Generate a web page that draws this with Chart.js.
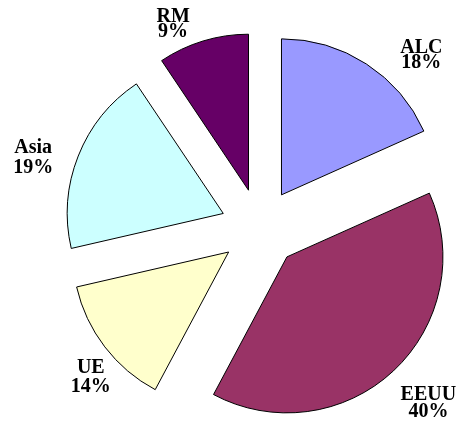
<!DOCTYPE html>
<html>
<head>
<meta charset="utf-8">
<script src="https://cdn.jsdelivr.net/npm/chart.js@4/dist/chart.umd.min.js"></script>
<style>
    html, body { margin: 0; padding: 0; background: #fff; }
    #wrap { width: 460px; height: 423px; position: relative; }
</style>
</head>
<body>
<div id="wrap"><canvas id="pieChart"></canvas></div>
<script>
// data (slice angles; labels show the rounded percent)
const regions = ['ALC', 'EEUU', 'UE', 'Asia', 'RM'];
const shares = [18.3, 39.5, 13.6, 19.2, 9.4];

const sliceColors = ['#9999FF', '#993366', '#FFFFCC', '#CCFFFF', '#660066'];
const explodeDist = 39.5;
// label nudge from the outer edge of each slice, and gap between the two lines
const labelNudge = [[55, -11], [35, 29], [-14, 26], [-45, -3], [-30, -19]];
const labelGap = [15, 17, 19, 20, 15];

const explodePlugin = {
    id: 'explode',
    beforeDatasetsDraw(chart) {
        const area = chart.chartArea;
        const cx = (area.left + area.right) / 2;
        const cy = (area.top + area.bottom) / 2;
        chart.getDatasetMeta(0).data.forEach(arc => {
            const mid = (arc.startAngle + arc.endAngle) / 2;
            arc.x = cx + Math.cos(mid) * explodeDist;
            arc.y = cy + Math.sin(mid) * explodeDist;
        });
    },
    afterDatasetsDraw(chart) {
        const ctx = chart.ctx;
        const total = shares.reduce((a, b) => a + b, 0);
        ctx.save();
        ctx.fillStyle = '#000';
        ctx.font = 'bold 20px "Liberation Serif", "Times New Roman", serif';
        ctx.textAlign = 'center';
        ctx.textBaseline = 'alphabetic';
        chart.getDatasetMeta(0).data.forEach((arc, i) => {
            const mid = (arc.startAngle + arc.endAngle) / 2;
            const x = arc.x + Math.cos(mid) * arc.outerRadius + labelNudge[i][0];
            const y = arc.y + Math.sin(mid) * arc.outerRadius + labelNudge[i][1];
            ctx.fillText(regions[i], x, y);
            ctx.fillText(Math.round(shares[i] / total * 100) + '%', x, y + labelGap[i]);
        });
        ctx.restore();
    }
};

const ctx = document.getElementById('pieChart').getContext('2d');
const chart = new Chart(ctx, {
    type: 'pie',
    data: {
        labels: regions,
        datasets: [{
            data: shares,
            backgroundColor: sliceColors,
            borderColor: '#000',
            borderWidth: 1
        }]
    },
    options: {
        responsive: true,
        maintainAspectRatio: false,
        animation: false,
        events: [],
        radius: 156,
        layout: {
            padding: { left: 60, right: 0, top: 33, bottom: 0 }
        },
        plugins: {
            legend: { display: false },
            tooltip: { enabled: false }
        }
    },
    plugins: [explodePlugin]
});
</script>
</body>
</html>
